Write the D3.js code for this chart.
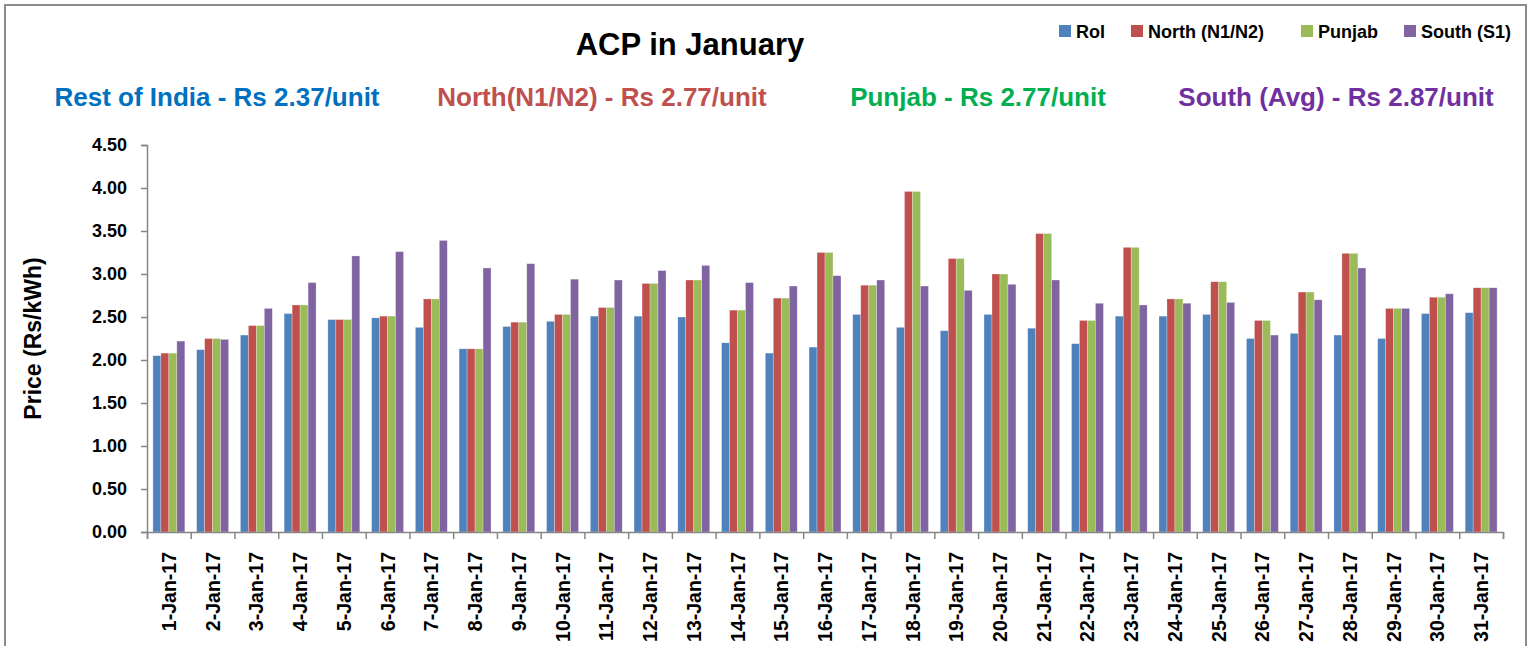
<!DOCTYPE html>
<html>
<head>
<meta charset="utf-8">
<script src="https://cdn.jsdelivr.net/npm/d3@7"></script>
<style>
  body { margin: 0; background: #fff; }
  text { font-family: "Liberation Sans", Arial, sans-serif; font-weight: bold; }
</style>
</head>
<body>
<svg width="1531" height="646"></svg>
<script>
// dati
var giorni = ["1-Jan-17","2-Jan-17","3-Jan-17","4-Jan-17","5-Jan-17","6-Jan-17","7-Jan-17","8-Jan-17","9-Jan-17","10-Jan-17",
  "11-Jan-17","12-Jan-17","13-Jan-17","14-Jan-17","15-Jan-17","16-Jan-17","17-Jan-17","18-Jan-17","19-Jan-17","20-Jan-17",
  "21-Jan-17","22-Jan-17","23-Jan-17","24-Jan-17","25-Jan-17","26-Jan-17","27-Jan-17","28-Jan-17","29-Jan-17","30-Jan-17","31-Jan-17"];
var roi    = [2.05,2.12,2.29,2.54,2.47,2.49,2.38,2.13,2.39,2.45,2.51,2.51,2.50,2.20,2.08,2.15,2.53,2.38,2.34,2.53,2.37,2.19,2.51,2.51,2.53,2.25,2.31,2.29,2.25,2.54,2.55];
var north  = [2.08,2.25,2.40,2.64,2.47,2.51,2.71,2.13,2.44,2.53,2.61,2.89,2.93,2.58,2.72,3.25,2.87,3.96,3.18,3.00,3.47,2.46,3.31,2.71,2.91,2.46,2.79,3.24,2.60,2.73,2.84];
var punjab = [2.08,2.25,2.40,2.64,2.47,2.51,2.71,2.13,2.44,2.53,2.61,2.89,2.93,2.58,2.72,3.25,2.87,3.96,3.18,3.00,3.47,2.46,3.31,2.71,2.91,2.46,2.79,3.24,2.60,2.73,2.84];
var south  = [2.22,2.24,2.60,2.90,3.21,3.26,3.39,3.07,3.12,2.94,2.93,3.04,3.10,2.90,2.86,2.98,2.93,2.86,2.81,2.88,2.93,2.66,2.64,2.66,2.67,2.29,2.70,3.07,2.60,2.77,2.84];
var serie = ["RoI","North (N1/N2)","Punjab","South (S1)"];
var colori = ["#4F81BD","#C0504D","#9BBB59","#8064A2"];
var sottotitoli = ["Rest of India - Rs 2.37/unit","North(N1/N2) - Rs 2.77/unit","Punjab - Rs 2.77/unit","South (Avg) - Rs 2.87/unit"];
var coloriSotto = ["#0070C0","#C0504D","#00B050","#7030A0"];
var yTicks = [0,0.5,1,1.5,2,2.5,3,3.5,4,4.5];

var svg = d3.select("svg");
var grigio = "#868686";

// cornice
svg.append("rect")
  .attr("x", 5).attr("y", 5).attr("width", 1521).attr("height", 700)
  .attr("fill", "none").attr("stroke", "#8c8c8c").attr("stroke-width", 2);

var sinistra = 147, destra = 1503, alto = 145, basso = 532;

var x0 = d3.scaleBand().domain(giorni).range([sinistra, destra]).paddingInner(0.27).paddingOuter(0.135);
var x1 = d3.scaleBand().domain(d3.range(4)).range([0, x0.bandwidth()]);
var y = d3.scaleLinear().domain([0, 4.5]).range([basso, alto]);

var valori = [roi, north, punjab, south];

// barre
var gruppi = svg.append("g").selectAll("g")
  .data(giorni).enter().append("g")
  .attr("transform", function(d){ return "translate(" + x0(d) + ",0)"; });

gruppi.selectAll("rect")
  .data(function(d, i){ return valori.map(function(v, s){ return {s: s, v: v[i]}; }); })
  .enter().append("rect")
  .attr("x", function(d){ return x1(d.s); })
  .attr("y", function(d){ return y(d.v); })
  .attr("width", x1.bandwidth())
  .attr("height", function(d){ return basso - y(d.v); })
  .attr("fill", function(d){ return colori[d.s]; })
  .attr("stroke", "#fff").attr("stroke-opacity", 0.45).attr("stroke-width", 0.6);

// asse y
var yAxis = svg.append("g")
  .attr("transform", "translate(" + sinistra + ",0)")
  .call(d3.axisLeft(y).tickValues(yTicks).tickFormat(d3.format(".2f")).tickSize(6).tickPadding(14));
yAxis.selectAll("text").style("font-size", "18px").attr("fill", "#000");

// asse x: tacche fra le categorie
var xl = d3.scaleLinear().domain([0, giorni.length]).range([sinistra, destra]);
svg.append("g")
  .attr("transform", "translate(0," + basso + ")")
  .call(d3.axisBottom(xl).tickValues(d3.range(giorni.length + 1)).tickFormat("").tickSize(7));

svg.append("g")
  .attr("transform", "translate(0," + basso + ")")
  .call(d3.axisBottom(x0).tickSize(0).tickPadding(0))
  .call(function(g){ g.select(".domain").remove(); })
  .selectAll("text")
  .style("font-size", "19.5px").attr("fill", "#000")
  .attr("text-anchor", "end")
  .attr("transform", "rotate(-90)")
  .attr("x", -20).attr("y", 0).attr("dy", "0.36em");

svg.selectAll(".domain, .tick line").attr("stroke", grigio).attr("stroke-width", 1.5);

// titolo asse y
svg.append("text")
  .attr("transform", "translate(41," + ((alto + basso) / 2) + ") rotate(-90)")
  .attr("text-anchor", "middle")
  .style("font-size", "23px")
  .text("Price (Rs/kWh)");

// titolo
svg.append("text")
  .attr("x", 690).attr("y", 55)
  .attr("text-anchor", "middle")
  .style("font-size", "31px")
  .text("ACP in January");

// sottotitoli
var posSotto = [217, 602, 978, 1336];
svg.selectAll(".sotto").data(sottotitoli).enter().append("text")
  .attr("class", "sotto")
  .attr("x", function(d, i){ return posSotto[i]; })
  .attr("y", 106)
  .attr("text-anchor", "middle")
  .style("font-size", "26px")
  .attr("fill", function(d, i){ return coloriSotto[i]; })
  .text(function(d){ return d; });

// legenda
var posLeg = [1059, 1131, 1301, 1404];
var leg = svg.selectAll(".leg").data(serie).enter().append("g")
  .attr("class", "leg")
  .attr("transform", function(d, i){ return "translate(" + posLeg[i] + ",25)"; });
leg.append("rect").attr("width", 12).attr("height", 12)
  .attr("fill", function(d, i){ return colori[i]; });
leg.append("text").attr("x", 17).attr("y", 12.5)
  .style("font-size", "18px")
  .text(function(d){ return d; });
</script>
</body>
</html>
